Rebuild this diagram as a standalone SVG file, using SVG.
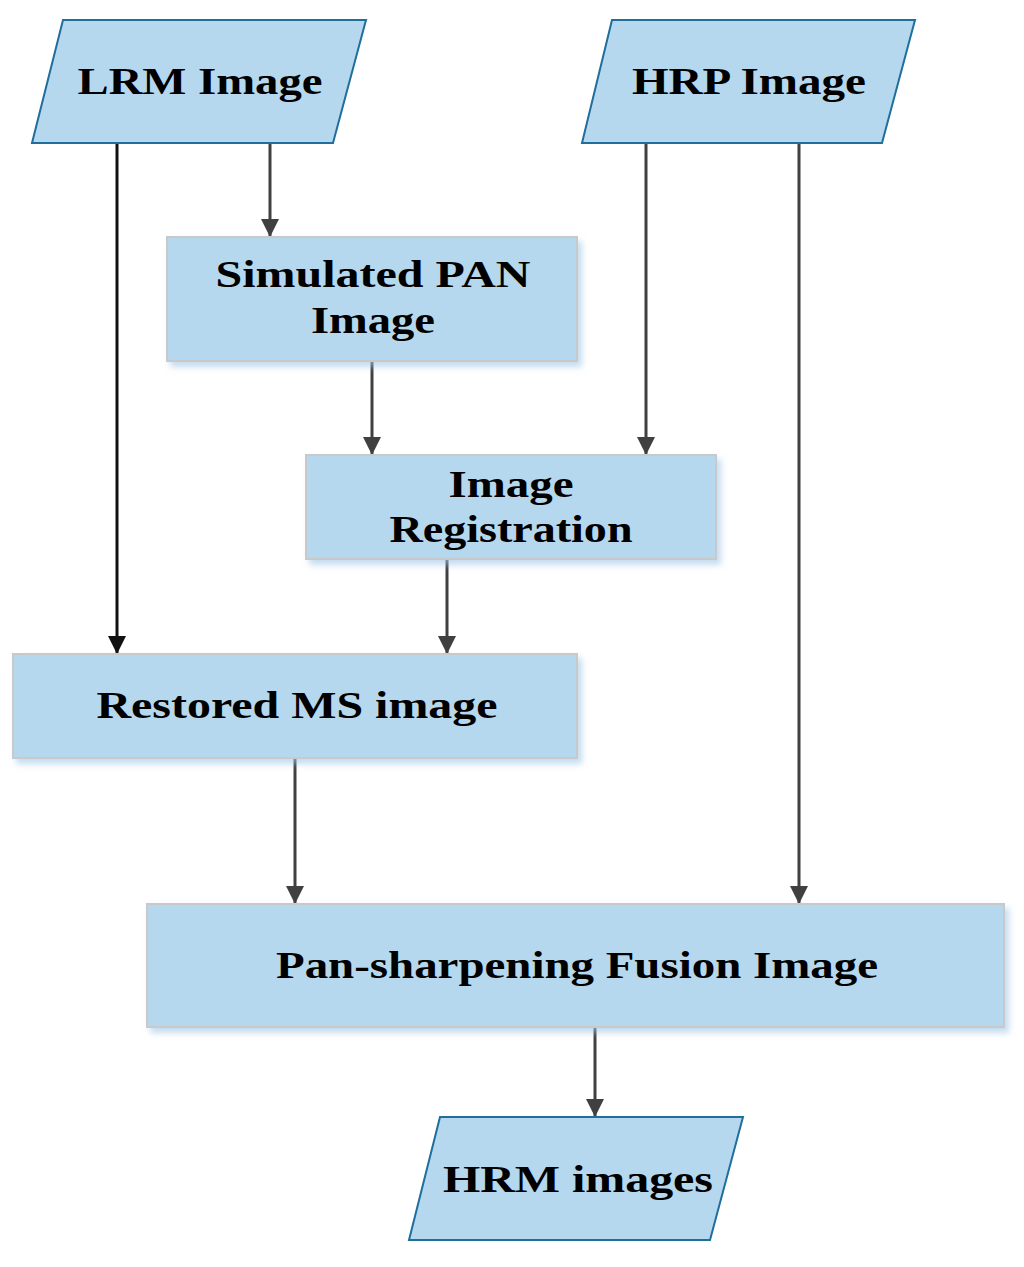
<svg xmlns="http://www.w3.org/2000/svg" width="1024" height="1267" viewBox="0 0 1024 1267">
<style>
.para{fill:#b5d8ef;stroke:#1f6e9c;stroke-width:2}
.box{fill:#b5d8ef;stroke:#c9c9c9;stroke-width:2;filter:url(#sh)}
.t{font-family:"Liberation Serif","Times New Roman",serif;font-weight:bold;font-size:38px;fill:#000;text-anchor:middle}
.c{stroke:#404040;stroke-width:3;fill:none;marker-end:url(#ah)}
.cd{stroke:#111;stroke-width:3;fill:none;marker-end:url(#ahd)}
</style>
<defs>
<filter id="sh" x="-5%" y="-10%" width="115%" height="130%">
<feDropShadow dx="4" dy="5" stdDeviation="3" flood-color="#9cc6e6" flood-opacity="0.6"/>
</filter>
<marker id="ah" markerUnits="userSpaceOnUse" markerWidth="20" markerHeight="20" refX="18" refY="9" orient="auto" viewBox="0 0 20 18">
<path d="M0,0 L18,9 L0,18 Z" fill="#404040"/>
</marker>
<marker id="ahd" markerUnits="userSpaceOnUse" markerWidth="20" markerHeight="20" refX="18" refY="9" orient="auto" viewBox="0 0 20 18">
<path d="M0,0 L18,9 L0,18 Z" fill="#111"/>
</marker>
</defs>
<g id="connectors">
<line class="cd" x1="117" y1="143" x2="117" y2="654"/>
<line class="c" x1="270" y1="143" x2="270" y2="237"/>
<line class="c" x1="646" y1="143" x2="646" y2="455"/>
<line class="c" x1="799" y1="143" x2="799" y2="904"/>
<line class="c" x1="372" y1="361" x2="372" y2="455"/>
<line class="c" x1="447" y1="559" x2="447" y2="654"/>
<line class="c" x1="295" y1="758" x2="295" y2="904"/>
<line class="c" x1="595" y1="1027" x2="595" y2="1117"/>
</g>
<g id="lrm">
<polygon class="para" points="63,20 366,20 333,143 32,143"/>
<text class="t" x="200" y="94" textLength="245" lengthAdjust="spacingAndGlyphs">LRM Image</text>
</g>
<g id="hrp">
<polygon class="para" points="612,20 915,20 882,143 582,143"/>
<text class="t" x="749" y="94" textLength="234" lengthAdjust="spacingAndGlyphs">HRP Image</text>
</g>
<g id="simpan">
<rect class="box" x="167" y="237" width="410" height="124"/>
<text class="t" x="373" y="287" textLength="315" lengthAdjust="spacingAndGlyphs">Simulated PAN</text>
<text class="t" x="373" y="333" textLength="124" lengthAdjust="spacingAndGlyphs">Image</text>
</g>
<g id="reg">
<rect class="box" x="306" y="455" width="410" height="104"/>
<text class="t" x="511" y="497" textLength="125" lengthAdjust="spacingAndGlyphs">Image</text>
<text class="t" x="511" y="542" textLength="243" lengthAdjust="spacingAndGlyphs">Registration</text>
</g>
<g id="restored">
<rect class="box" x="13" y="654" width="564" height="104"/>
<text class="t" x="297" y="718" textLength="401" lengthAdjust="spacingAndGlyphs">Restored MS image</text>
</g>
<g id="fusion">
<rect class="box" x="147" y="904" width="857" height="123"/>
<text class="t" x="577" y="978" textLength="602" lengthAdjust="spacingAndGlyphs">Pan-sharpening Fusion Image</text>
</g>
<g id="hrm">
<polygon class="para" points="440,1117 743,1117 710,1240 409,1240"/>
<text class="t" x="578" y="1192" textLength="270" lengthAdjust="spacingAndGlyphs">HRM images</text>
</g>
</svg>
